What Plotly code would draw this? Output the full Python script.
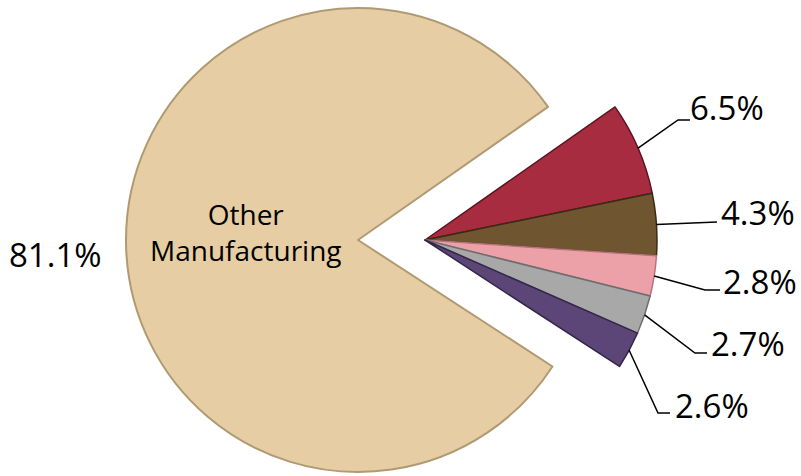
import math
import plotly.graph_objects as go

# ---- data ----
categories = ["Segment A", "Segment B", "Segment C", "Segment D", "Segment E", "Other Manufacturing"]
shares = [6.5, 4.3, 2.8, 2.7, 2.6, 81.1]
pct_labels = ["6.5%", "4.3%", "2.8%", "2.7%", "2.6%", "81.1%"]

# ---- style ----
W, H = 801, 476
colors = ["#A72C3F", "#6F5530", "#ECA0A8", "#A8A8A8", "#5C4678", "#E6CDA4"]
edges = ["#5a1520", "#3a2a14", "#b5737c", "#6e6e6e", "#33264a", "#b09a72"]
CLEAR = "rgba(0,0,0,0)"
R = 232            # pie radius in px
CY = 240           # pie centre y (px from top)
BIG_CX = 358       # centre of the main piece
SMALL_CX = 425     # centre of the pulled-out group
ROT = 55           # start angle (degrees clockwise from 12 o'clock)
FONT = "Open Sans"
PCT_SIZE = 33
NAME_SIZE = 28


def dom(cx):
    return dict(x=[(cx - R) / W, (cx + R) / W], y=[1 - (CY + R) / H, 1 - (CY - R) / H])


n = len(shares)
big_colors = [CLEAR] * (n - 1) + [colors[-1]]
big_edges = [CLEAR] * (n - 1) + [edges[-1]]
small_colors = colors[:-1] + [CLEAR]
small_edges = edges[:-1] + [CLEAR]

fig = go.Figure()
fig.add_trace(go.Pie(
    labels=categories, values=shares, sort=False, direction="clockwise", rotation=ROT,
    domain=dom(BIG_CX), marker=dict(colors=big_colors, line=dict(color=big_edges, width=2)),
    textinfo="none", showlegend=False, hoverinfo="skip",
))
fig.add_trace(go.Pie(
    labels=categories, values=shares, sort=False, direction="clockwise", rotation=ROT,
    domain=dom(SMALL_CX), marker=dict(colors=small_colors, line=dict(color=small_edges, width=1.5)),
    textinfo="none", showlegend=False, hoverinfo="skip",
))

# leader lines + labels for small slices: start point from slice mid-angle
elbows = [(678, 120), (717, 222), (705, 290), (695, 353), (658, 413)]
ends = [(690, 120), (717, 222), (720, 290), (707, 353), (670, 413)]
label_pos = [(688, 108), (719, 212), (721, 281), (709, 343), (673, 405)]

total = sum(shares)
cum = 0.0
shapes = []
annotations = []
for i in range(n):
    frac = shares[i] / total
    mid_deg = ROT + (cum + frac / 2) * 360  # clockwise from 12 o'clock
    cum += frac
    if i == n - 1:
        continue
    a = math.radians(mid_deg)
    sx = SMALL_CX + R * math.sin(a)
    sy = CY - R * math.cos(a)
    ex, ey = elbows[i]
    fx, fy = ends[i]
    path = f"M {sx/W} {1-sy/H} L {ex/W} {1-ey/H} L {fx/W} {1-fy/H}"
    shapes.append(dict(type="path", xref="paper", yref="paper", path=path,
                       line=dict(color="black", width=1.5)))
    lx, ly = label_pos[i]
    annotations.append(dict(x=lx / W, y=1 - ly / H, xref="paper", yref="paper",
                            text=pct_labels[i], showarrow=False, xanchor="left",
                            yanchor="middle", font=dict(family=FONT, size=PCT_SIZE, color="black")))

annotations.append(dict(x=104 / W, y=1 - 254 / H, xref="paper", yref="paper",
                        text=pct_labels[-1], showarrow=False, xanchor="right", yanchor="middle",
                        font=dict(family=FONT, size=PCT_SIZE, color="black")))
annotations.append(dict(x=246 / W, y=1 - 232 / H, xref="paper", yref="paper",
                        text="Other<br>Manufacturing", showarrow=False, xanchor="center",
                        yanchor="middle", font=dict(family=FONT, size=NAME_SIZE, color="black")))

fig.update_layout(
    width=W, height=H, margin=dict(l=0, r=0, t=0, b=0),
    paper_bgcolor="white", plot_bgcolor="white",
    shapes=shapes, annotations=annotations,
)
fig.write_html("out.html", config={"displayModeBar": False},
               post_script="document.body.style.margin='0';")
